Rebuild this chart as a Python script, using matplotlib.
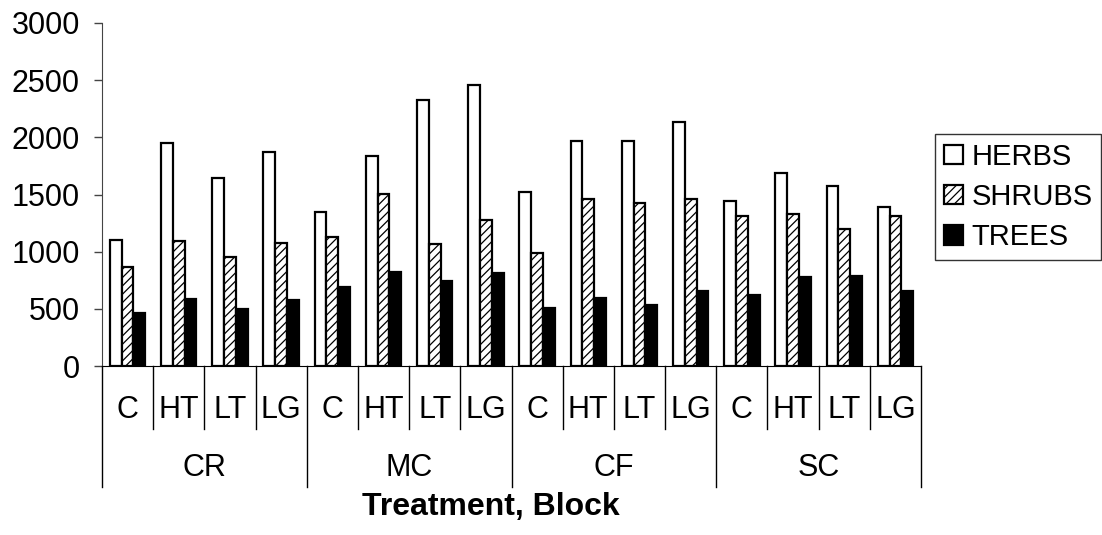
import numpy as np
import matplotlib
matplotlib.use("Agg")
import matplotlib.pyplot as plt

treatments = ["CR", "MC", "CF", "SC"]
blocks = ["C", "HT", "LT", "LG"]

herbs = [1100, 1950, 1640, 1870,
         1345, 1835, 2330, 2460,
         1525, 1965, 1965, 2130,
         1440, 1690, 1575, 1390]
shrubs = [870, 1095, 950, 1080,
          1130, 1505, 1065, 1275,
          985, 1460, 1425, 1460,
          1310, 1330, 1200, 1310]
trees = [460, 590, 495, 575,
         690, 820, 740, 810,
         510, 595, 530, 660,
         625, 775, 790, 655]

plt.rcParams['font.family'] = ['Liberation Sans', 'DejaVu Sans']
plt.rcParams['hatch.linewidth'] = 0.9

fig = plt.figure(figsize=(11.02, 5.35), dpi=100)
ax = fig.add_axes([102 / 1102, 1 - 366 / 535, 819 / 1102, 343 / 535])

n = len(herbs)
x = np.arange(n)
w = 0.23
ax.bar(x + 0.5 - w, herbs, w, color='white', edgecolor='black', linewidth=1.6, label='HERBS')
ax.bar(x + 0.5, shrubs, w, color='white', edgecolor='black', linewidth=1.6,
       hatch='////', label='SHRUBS')
ax.bar(x + 0.5 + w, trees, w, color='black', edgecolor='black', linewidth=1.6, label='TREES')

ax.set_xlim(0, n)
ax.set_ylim(0, 3000)
ax.set_yticks(range(0, 3001, 500))
ax.tick_params(axis='y', labelsize=22, length=6, width=1, color='#444444', pad=10)
ax.set_xticks([])
for s in ['top', 'right']:
    ax.spines[s].set_visible(False)
ax.spines['left'].set_color('#444444')
ax.spines['bottom'].set_color('black')

# multi-level category axis
trans = ax.get_xaxis_transform()
for i in range(n + 1):
    y_end = -0.353 if i % 4 == 0 else -0.184
    ax.plot([i, i], [0, y_end], color='black', lw=1, transform=trans, clip_on=False)
for i in range(n):
    ax.text(i + 0.5, -0.128, blocks[i % 4], transform=trans, ha='center', va='center', fontsize=22)
for g, t in enumerate(treatments):
    ax.text(g * 4 + 2, -0.297, t, transform=trans, ha='center', va='center', fontsize=22)

fig.text(491 / 1102, 1 - 507 / 535, 'Treatment, Block', ha='center', va='center',
         fontsize=23, fontweight='bold')

leg = fig.legend(loc='upper left', bbox_to_anchor=(935 / 1102, 1 - 134 / 535),
                 fontsize=21, frameon=True, fancybox=False, edgecolor='black',
                 handlelength=0.65, handleheight=0.65, handletextpad=0.3,
                 labelspacing=0.42, borderpad=0.3, borderaxespad=0)
leg.get_frame().set_linewidth(1)

fig.savefig('out.png', dpi=100)
